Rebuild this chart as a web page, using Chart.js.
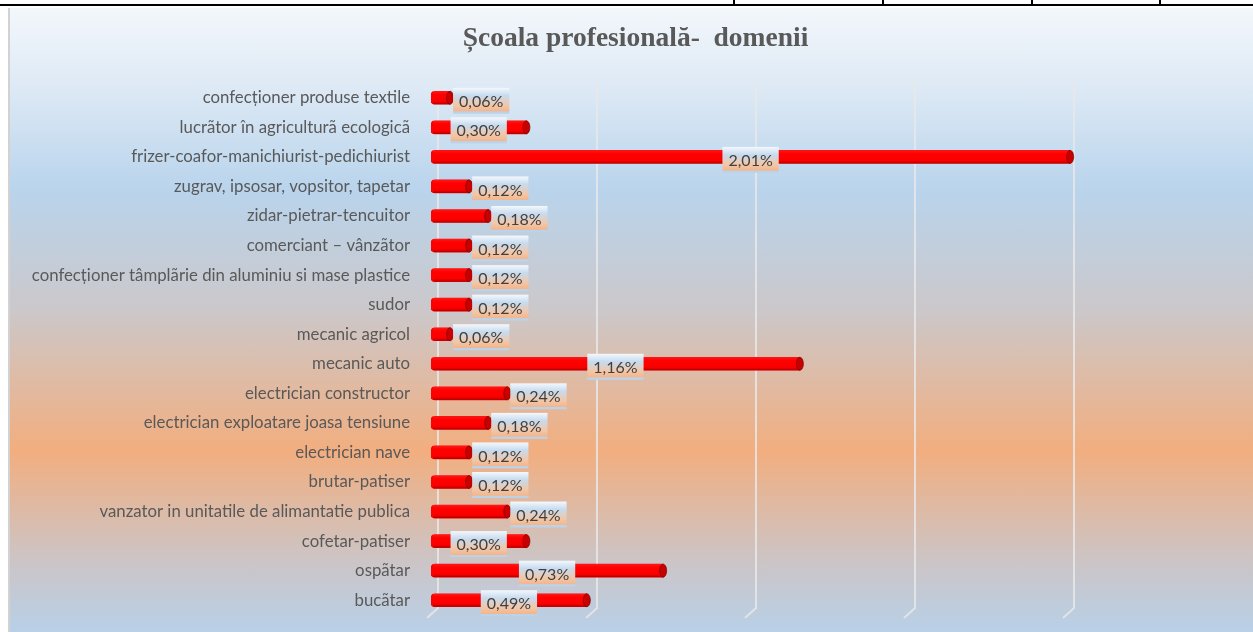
<!DOCTYPE html>
<html>
<head>
<meta charset="utf-8">
<script src="https://cdn.jsdelivr.net/npm/chart.js@4.4.0/dist/chart.umd.min.js"></script>
<style>
    html, body { margin: 0; padding: 0; background: #ffffff; }
    body { width: 1253px; height: 632px; position: relative; overflow: hidden; }
    .rule { position: absolute; background: #000; }
    #edge { position: absolute; left: 8px; top: 8px; width: 2px; height: 624px; background: #d2d2d2; }
    #box {
        position: absolute; left: 10px; top: 8px; width: 1243px; height: 624px;
        background: linear-gradient(to bottom,
            #f3f7fb 0%, #dde9f5 13%, #b9d4ec 29%, #cbc8cb 48%,
            #f2ae7f 71%, #cdc4c4 88%, #b8d0e8 100%);
    }
    canvas { display: block; }
</style>
</head>
<body>
<div class="rule" style="left:0;top:4px;width:1253px;height:2px;"></div>
<div class="rule" style="left:733px;top:0;width:2px;height:5px;"></div>
<div class="rule" style="left:882px;top:0;width:2px;height:5px;"></div>
<div class="rule" style="left:1031px;top:0;width:2px;height:5px;"></div>
<div class="rule" style="left:1159px;top:0;width:2px;height:5px;"></div>
<div id="edge"></div>
<div id="box"><canvas id="chart" width="1243" height="624"></canvas></div>

<script>
// Data (top to bottom as in the picture)
const categories = [
    'confecționer produse textile',
    'lucrãtor în agriculturã ecologicã',
    'frizer-coafor-manichiurist-pedichiurist',
    'zugrav, ipsosar, vopsitor, tapetar',
    'zidar-pietrar-tencuitor',
    'comerciant – vânzãtor',
    'confecționer tâmplãrie din aluminiu si mase plastice',
    'sudor',
    'mecanic agricol',
    'mecanic auto',
    'electrician constructor',
    'electrician exploatare joasa tensiune',
    'electrician nave',
    'brutar-patiser',
    'vanzator in unitatile de alimantatie publica',
    'cofetar-patiser',
    'ospãtar',
    'bucãtar'
];
const percentValues = [0.06, 0.30, 2.01, 0.12, 0.18, 0.12, 0.12, 0.12, 0.06, 1.16, 0.24, 0.18, 0.12, 0.12, 0.24, 0.30, 0.73, 0.49];
const gridTicks = [0, 0.5, 1, 1.5, 2];
const chartTitle = 'Școala profesională-  domenii';

const LABEL_FONT = 'Lato';

// title drawn by hand so it can sit centred on the whole frame
const titlePlugin = {
    id: 'frameTitle',
    afterDraw(chart) {
        const { ctx } = chart;
        ctx.save();
        ctx.font = 'bold 27.5px "Liberation Serif"';
        ctx.fillStyle = '#595959';
        ctx.textAlign = 'center';
        ctx.textBaseline = 'middle';
        ctx.fillText(chartTitle, chart.width / 2 + 4, 31);
        ctx.restore();
    }
};

// 3D-ish gridlines: back line plus a short diagonal foot
const gridPlugin = {
    id: 'grid3d',
    beforeDatasetsDraw(chart) {
        const { ctx } = chart;
        const xs = chart.scales.x;
        const area = chart.chartArea;
        ctx.save();
        ctx.strokeStyle = 'rgba(232, 232, 232, 0.85)';
        ctx.lineWidth = 2;
        gridTicks.forEach(v => {
            const front = xs.getPixelForValue(v) - 4;
            const back = front + 11;
            ctx.beginPath();
            ctx.moveTo(back, area.top - 3);
            ctx.lineTo(back, area.bottom - 7);
            ctx.lineTo(front, area.bottom + 3);
            ctx.stroke();
        });
        ctx.restore();
    }
};

// shading on the bars + value boxes
const barLookPlugin = {
    id: 'barLook',
    afterDatasetsDraw(chart) {
        const { ctx } = chart;
        const meta = chart.getDatasetMeta(0);
        ctx.save();
        meta.data.forEach((bar, i) => {
            const h = bar.height;
            const top = bar.y - h / 2;
            const left = bar.base;
            const right = bar.x;
            // cylinder shading
            const g = ctx.createLinearGradient(0, top, 0, top + h);
            g.addColorStop(0, 'rgba(255, 90, 90, 0.3)');
            g.addColorStop(0.35, 'rgba(255, 0, 0, 0)');
            g.addColorStop(0.75, 'rgba(200, 0, 0, 0.1)');
            g.addColorStop(1, 'rgba(110, 0, 0, 0.6)');
            ctx.fillStyle = g;
            ctx.fillRect(left + 2, top, right - left - 2, h);
            // end cap
            ctx.beginPath();
            ctx.ellipse(right, bar.y, 3.5, h / 2, 0, 0, Math.PI * 2);
            ctx.fillStyle = '#c80000';
            ctx.fill();
            ctx.strokeStyle = 'rgba(120, 0, 0, 0.7)';
            ctx.lineWidth = 1;
            ctx.stroke();
        });

        // value labels
        ctx.font = '16px ' + LABEL_FONT;
        ctx.textBaseline = 'middle';
        ctx.textAlign = 'center';
        meta.data.forEach((bar, i) => {
            const txt = percentValues[i].toFixed(2).replace('.', ',') + '%';
            const w = ctx.measureText(txt).width + 12;
            const hBox = 26;
            let cx = (bar.base + bar.x) / 2;
            if (bar.x - bar.base < w + 25) cx = bar.x + 3 + w / 2;
            const cy = bar.y + 3;
            const bx = cx - w / 2, by = cy - hBox / 2;
            const g = ctx.createLinearGradient(0, by, 0, by + hBox);
            g.addColorStop(0, '#f4f8fc');
            g.addColorStop(0.3, '#c6dbef');
            g.addColorStop(0.68, '#f3c6a6');
            g.addColorStop(0.9, '#f2b68d');
            g.addColorStop(0.92, '#bcd2e8');
            g.addColorStop(1, '#bcd2e8');
            ctx.fillStyle = g;
            ctx.fillRect(bx, by, w, hBox);
            ctx.fillStyle = '#404040';
            ctx.fillText(txt, cx, cy + 1);
        });
        ctx.restore();
    }
};

const ctx = document.getElementById('chart').getContext('2d');
new Chart(ctx, {
    type: 'bar',
    data: {
        labels: categories,
        datasets: [{
            data: percentValues,
            backgroundColor: '#ff0000',
            borderWidth: 0,
            borderRadius: { topLeft: 4, bottomLeft: 4, topRight: 0, bottomRight: 0 },
            borderSkipped: false,
            barThickness: 13
        }]
    },
    options: {
        indexAxis: 'y',
        responsive: false,
        animation: false,
        layout: { padding: { left: 0, right: 27, top: 75, bottom: 17 } },
        plugins: {
            legend: { display: false },
            tooltip: { enabled: false },
            title: { display: false }
        },
        scales: {
            x: {
                display: false,
                min: 0,
                max: 2.5
            },
            y: {
                grid: { display: false, drawTicks: false },
                border: { display: false },
                ticks: {
                    color: '#595959',
                    padding: 21,
                    font: { family: LABEL_FONT, size: 16.8 }
                },
                afterFit(scale) {
                    // keep the label column fixed and drop the extra edge padding
                    scale.width = 421;
                    scale.paddingTop = 0;
                    scale.paddingBottom = 0;
                }
            }
        }
    },
    plugins: [gridPlugin, barLookPlugin, titlePlugin]
});
</script>
</body>
</html>
